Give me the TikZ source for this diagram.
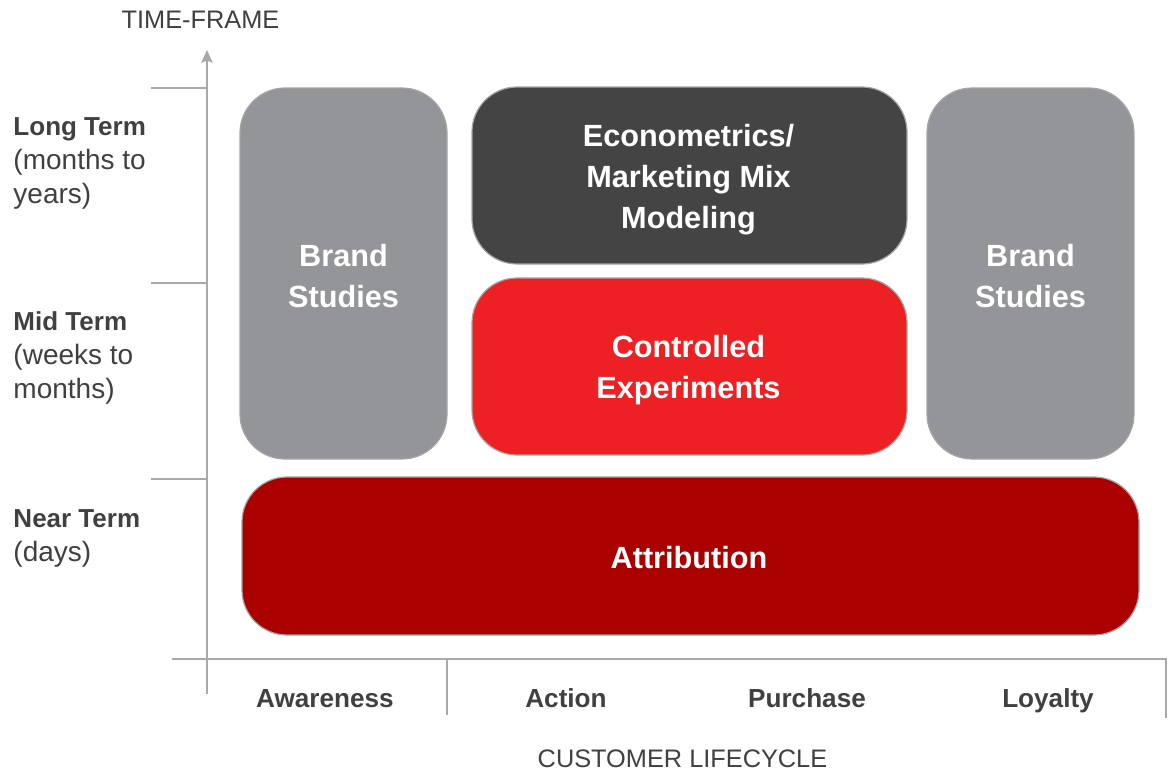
\documentclass[tikz,border=0pt]{standalone}
\usepackage{fontspec}
\setmainfont{Liberation Sans}
\usetikzlibrary{arrows.meta}

\newcommand\termfont{\bfseries\fontsize{19.5}{25.5}\selectfont}

\tikzset{every picture/.style={line width=0.75pt}}
\tikzset{
  axisline/.style={color={rgb, 255:red, 167; green, 169; blue, 172}, line width=1.5},
  block/.style={rounded corners=33.75, draw={rgb, 255:red, 165; green, 165; blue, 165}, line width=0.9},
  blocktext/.style={text={rgb, 255:red, 255; green, 255; blue, 255}, align=center, inner sep=0,
    font=\bfseries\fontsize{23}{30.75}\selectfont},
  termlabel/.style={anchor=west, align=left, inner sep=0, text={rgb, 255:red, 64; green, 64; blue, 65},
    font=\fontsize{21}{25.5}\selectfont},
  stagelabel/.style={anchor=base, inner sep=0, text={rgb, 255:red, 64; green, 64; blue, 65},
    font=\bfseries\fontsize{19.6}{23}\selectfont},
  axistitle/.style={inner sep=0, text={rgb, 255:red, 64; green, 64; blue, 65},
    font=\fontsize{19}{23}\selectfont}
}

\begin{document}
\begin{tikzpicture}[x=0.75pt,y=0.75pt,yscale=-1,xscale=1]
\useasboundingbox (0,0) rectangle (1168,772);

%Axes
\coordinate (ybot) at (207,694);
\coordinate (ytop) at (207,50);
\coordinate (xleft) at (172,659);
\coordinate (xright) at (1167,659);
\draw [axisline, -{Stealth[length=9.5,width=8.5,inset=1.5]}] (ybot) -- (ytop);
\draw [axisline] (xleft) -- (xright);
%Straight Lines (time ticks)
\draw [axisline] (151,88) -- (207,88);
\draw [axisline] (151,283) -- (207,283);
\draw [axisline] (151,479) -- (207,479);
%Straight Lines (lifecycle separators)
\draw [axisline] (447,659) -- (447,715);
\draw [axisline] (1166,659) -- (1166,718);

%Rounded Rect
\node (brandL) [block, fill={rgb, 255:red, 147; green, 149; blue, 152}, minimum width=155.25, minimum height=278.25] at (343.5,273.5) {};
\node (brandLtext) [blocktext] at (343.5,276.5) {Brand\\Studies};
%Rounded Rect
\node (econ) [block, fill={rgb, 255:red, 68; green, 68; blue, 69}, minimum width=326.25, minimum height=132.75] at (689.5,175.5) {};
\node (econtext) [blocktext] at (688.5,180) {Econometrics/\\Marketing Mix\\Modeling};
%Rounded Rect
\node (ctrl) [block, fill={rgb, 255:red, 237; green, 32; blue, 36}, minimum width=326.25, minimum height=132.75] at (689.5,366.5) {};
\node (ctrltext) [blocktext] at (688.5,370.5) {Controlled\\Experiments};
%Rounded Rect
\node (brandR) [block, fill={rgb, 255:red, 147; green, 149; blue, 152}, minimum width=155.25, minimum height=278.25] at (1030.5,273.5) {};
\node (brandRtext) [blocktext] at (1030.5,276.5) {Brand\\Studies};
%Rounded Rect
\node (attr) [block, fill={rgb, 255:red, 170; green, 0; blue, 0}, minimum width=672.75, minimum height=118.5] at (690.5,556) {};
\node (attrtext) [blocktext] at (689,558) {Attribution};

% Text Node
\node (timeframe) [axistitle] at (200.5,20) {TIME-FRAME};
% Text Node
\node (longterm) [termlabel] at (13,163) {{\termfont Long Term}\\(months to\\years)};
% Text Node
\node (midterm) [termlabel] at (13,358) {{\termfont Mid Term}\\(weeks to\\months)};
% Text Node
\node (nearterm) [termlabel] at (13,538) {{\termfont Near Term}\\(days)};

% Text Node
\node (awareness) [stagelabel] at (325,707) {Awareness};
% Text Node
\node (action) [stagelabel] at (566,707) {Action};
% Text Node
\node (purchase) [stagelabel] at (807,707) {Purchase};
% Text Node
\node (loyalty) [stagelabel] at (1048,707) {Loyalty};
% Text Node
\node (lifecycle) [axistitle] at (682.5,759) {CUSTOMER LIFECYCLE};
\end{tikzpicture}
\end{document}
